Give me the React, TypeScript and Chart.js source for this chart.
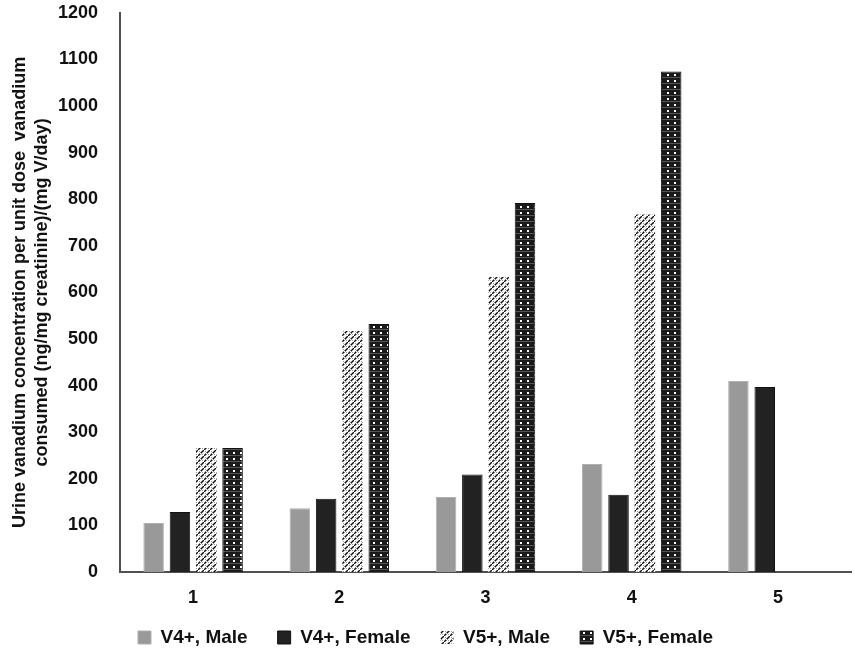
import { useEffect, useRef } from "react";
import { Chart, registerables } from "chart.js";

Chart.register(...registerables);

const categories = ["1", "2", "3", "4", "5"];
const seriesNames = ["V4+, Male", "V4+, Female", "V5+, Male", "V5+, Female"];
const v4Male = [105, 137, 161, 232, 410];
const v4Female = [129, 157, 209, 166, 397];
const v5Male = [266, 517, 633, 767, null];
const v5Female = [266, 532, 792, 1074, null];
const yTitle = [
  "Urine vanadium concentration per unit dose  vanadium",
  "consumed (ng/mg creatinine)/(mg V/day)",
];
const yMin = 0;
const yMax = 1200;
const yStep = 100;

function makeHatch(): CanvasPattern | string {
  const c = document.createElement("canvas");
  c.width = 6;
  c.height = 6;
  const g = c.getContext("2d");
  if (!g) return "#888";
  g.fillStyle = "#ffffff";
  g.fillRect(0, 0, 6, 6);
  g.strokeStyle = "#111111";
  g.lineWidth = 1.4;
  g.beginPath();
  g.moveTo(-1, 7);
  g.lineTo(7, -1);
  g.stroke();
  g.fillStyle = "#ffffff";
  g.fillRect(2, 3, 1, 1);
  g.fillStyle = "#9a9a9a";
  g.fillRect(4, 4, 1, 1);
  g.fillRect(1, 1, 1, 1);
  const p = g.createPattern(c, "repeat");
  return p || "#888";
}

function makeDots(): CanvasPattern | string {
  const c = document.createElement("canvas");
  c.width = 7;
  c.height = 6;
  const g = c.getContext("2d");
  if (!g) return "#222";
  g.fillStyle = "#1a1a1a";
  g.fillRect(0, 0, 7, 6);
  g.fillStyle = "#ffffff";
  g.fillRect(2, 2, 2, 2);
  g.fillStyle = "#555555";
  g.fillRect(0, 5, 7, 1);
  const p = g.createPattern(c, "repeat");
  return p || "#222";
}

export default function App() {
  const ref = useRef<HTMLCanvasElement | null>(null);

  useEffect(() => {
    document.body.style.margin = "0";
    const canvas = ref.current;
    if (!canvas) return;
    const hatch = makeHatch();
    const dots = makeDots();
    const font = "'Liberation Sans', Arial, sans-serif";
    const chart = new Chart(canvas, {
      type: "bar",
      data: {
        labels: categories,
        datasets: [
          {
            label: seriesNames[0],
            data: v4Male,
            backgroundColor: "#999999",
            borderColor: "#b0b0b0",
            borderWidth: 1,
          },
          {
            label: seriesNames[1],
            data: v4Female,
            backgroundColor: "#222222",
            borderColor: "#111111",
            borderWidth: 1,
          },
          {
            label: seriesNames[2],
            data: v5Male,
            backgroundColor: hatch as any,
            borderColor: "rgba(0,0,0,0)",
            borderWidth: 0,
          },
          {
            label: seriesNames[3],
            data: v5Female,
            backgroundColor: dots as any,
            borderColor: "#111111",
            borderWidth: 1,
          },
        ],
      },
      options: {
        animation: false,
        responsive: false,
        maintainAspectRatio: false,
        layout: { padding: { top: 0, right: 4, bottom: -4, left: 0 } },
        datasets: {
          bar: { categoryPercentage: 0.72, barPercentage: 0.78 },
        },
        plugins: {
          tooltip: { enabled: false },
          legend: {
            position: "bottom",
            labels: {
              boxWidth: 13,
              boxHeight: 13,
              padding: 30,
              color: "#111111",
              font: { family: font, size: 19, weight: "bold" },
            },
          },
        },
        scales: {
          x: {
            grid: { display: false, drawTicks: false, tickLength: 0 },
            border: { display: true, color: "#505050", width: 2 },
            ticks: {
              color: "#111111",
              padding: 15,
              font: { family: font, size: 18, weight: "bold" },
            },
            afterFit: (scale: any) => {
              scale.height = 26;
              scale._computeLabelArea = () => undefined;
            },
          },
          y: {
            min: yMin,
            max: yMax,
            grid: { display: false, drawTicks: true, tickLength: 20 },
            border: { display: true, color: "#505050", width: 2 },
            ticks: {
              stepSize: yStep,
              color: "#111111",
              padding: 2,
              font: { family: font, size: 18, weight: "bold" },
              callback: (v: any) => String(v),
            },
            title: {
              display: true,
              text: yTitle,
              color: "#111111",
              padding: { top: 9, bottom: 0 },
              font: { family: font, size: 18, weight: "bold", lineHeight: 1.22 },
            },
            afterFit: (scale: any) => {
              scale.width = 120;
            },
          },
        },
      },
    });
    return () => chart.destroy();
  }, []);

  return <canvas ref={ref} width={855} height={653} style={{ display: "block" }} />;
}
